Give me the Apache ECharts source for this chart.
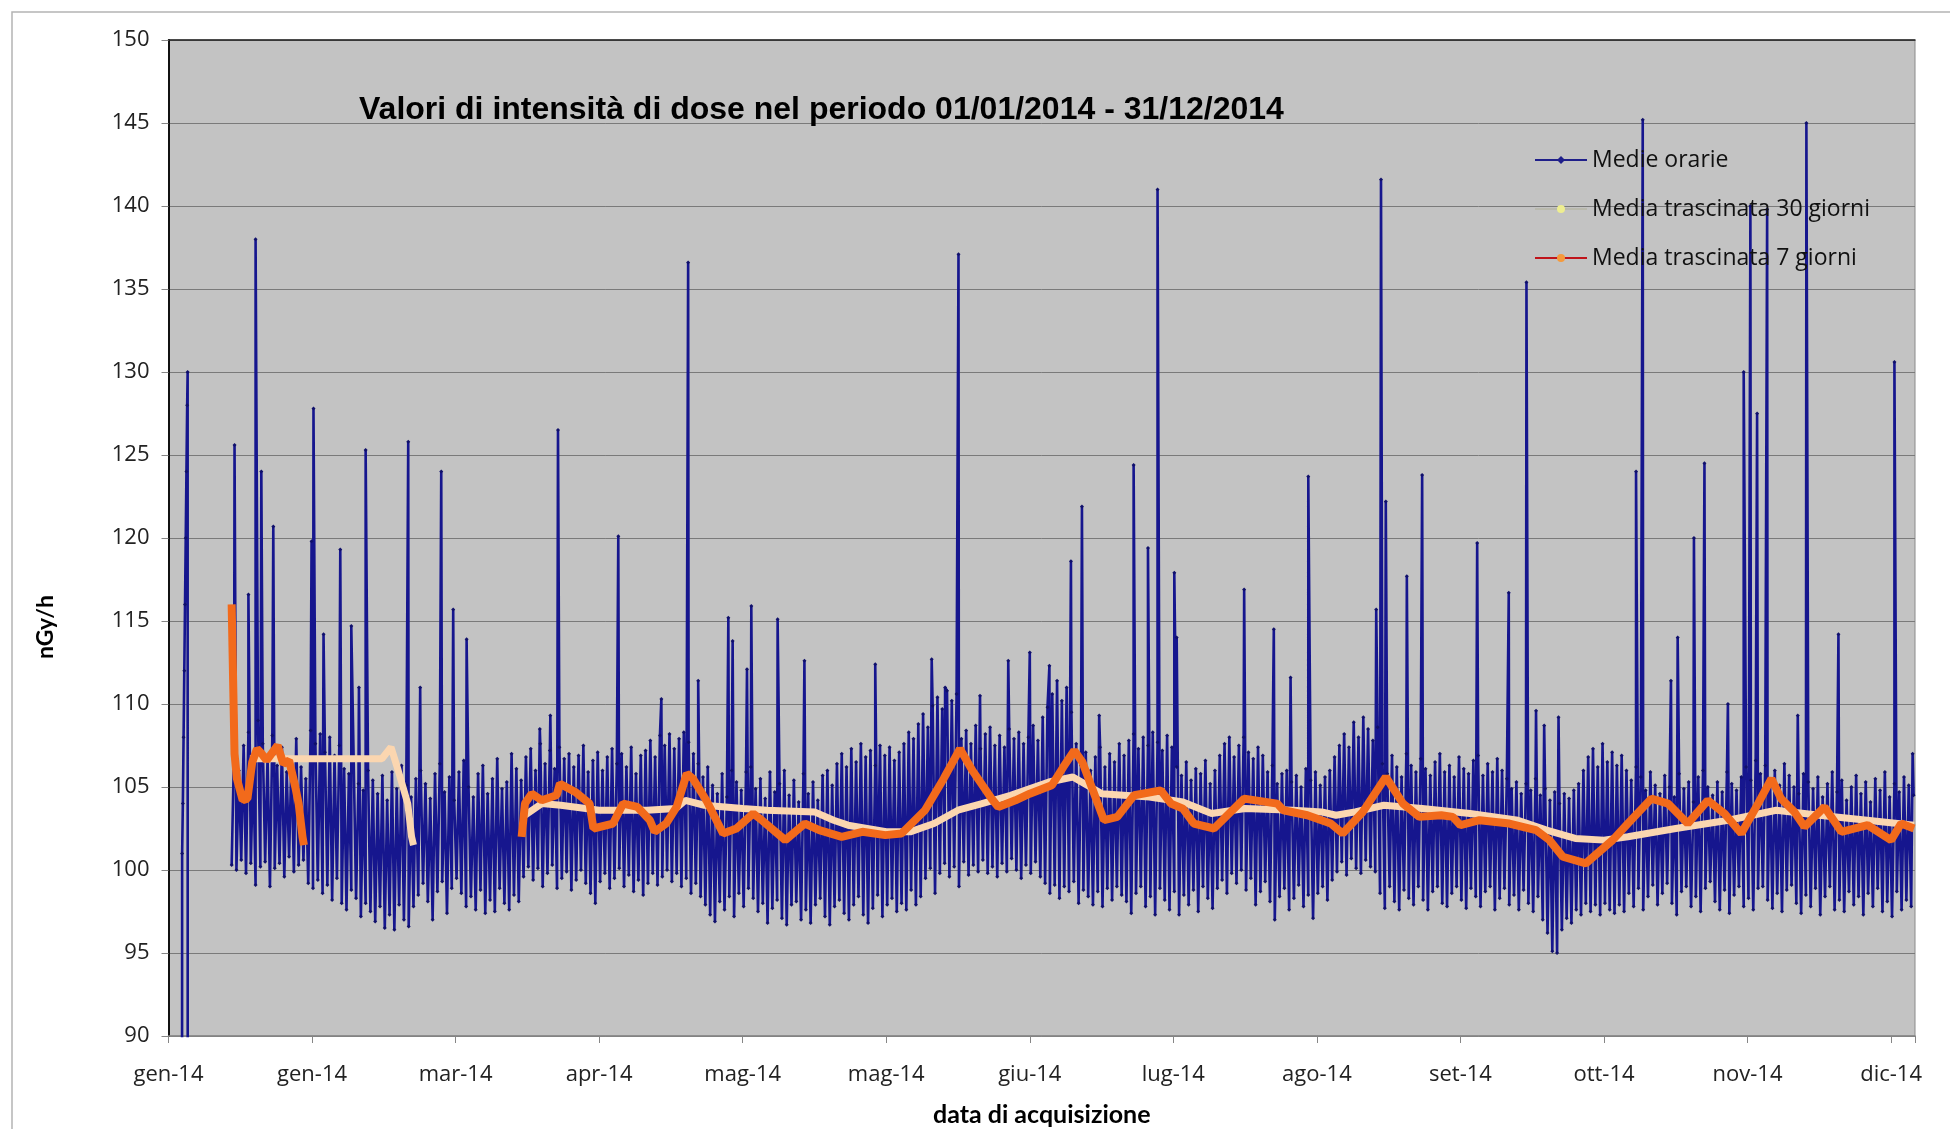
<!DOCTYPE html>
<html>
<head>
<meta charset="utf-8">
<script src="https://cdn.jsdelivr.net/npm/echarts@6/dist/echarts.min.js"></script>
<style>
  html, body { margin: 0; padding: 0; background: #fff; }
  #chart { width: 1950px; height: 1129px; }
</style>
</head>
<body>
<div id="chart"></div>
<script>
// x = giorni dal 01/01/2014
const tickLabels = ['gen-14','gen-14','mar-14','apr-14','mag-14','mag-14','giu-14','lug-14','ago-14','set-14','ott-14','nov-14','dic-14'];

// primo blocco di dati (3-4 gennaio), poi interruzione
const startDays = [2.75, 2.85, 3.0, 3.15, 3.3, 3.45, 3.6, 3.75, 3.9, 4.0, 4.05];
const startVals = [0, 101, 104, 108, 112, 116, 120, 124, 128, 130, 0];

// minimo e massimo giornaliero delle medie orarie, dal giorno 13 al 364
const firstDay = 13;
const dayLow = [
  100.3,100.0,100.6,99.8,100.4,99.1,100.2,100.5,99.0,100.1,
  100.4,99.6,100.8,99.9,100.3,100.6,99.2,98.9,99.4,98.6,
  99.1,98.2,99.5,98.0,97.6,98.8,98.3,97.2,98.0,97.5,
  96.9,97.8,96.5,97.3,96.4,97.9,97.0,96.6,97.8,98.5,
  99.2,98.1,97.0,98.7,99.3,97.4,98.9,99.5,98.6,97.8,
  98.4,97.6,98.8,97.4,98.2,97.5,98.9,98.0,97.6,98.5,
  98.1,99.6,100.2,99.4,100.1,99.0,99.8,100.3,98.9,99.5,
  99.9,98.8,99.4,100.0,99.2,98.6,98.0,99.3,99.8,98.9,
  99.5,100.1,99.0,99.7,98.7,99.4,98.5,99.2,99.8,99.1,
  99.6,100.0,99.3,99.8,99.0,99.5,98.6,99.2,98.4,97.9,
  97.3,96.9,98.1,97.6,98.4,97.2,98.6,97.8,98.9,98.3,
  97.5,98.0,96.8,97.7,98.2,97.1,96.7,97.9,98.1,97.0,
  97.6,96.8,97.9,98.3,97.2,96.7,97.8,98.2,97.4,97.0,
  97.9,98.4,97.3,96.8,97.7,98.5,97.2,97.9,98.3,97.5,
  98.0,97.6,98.8,97.9,98.4,99.5,100.1,98.6,99.8,100.4,
  99.6,100.2,99.0,100.5,99.7,100.3,99.9,100.6,99.8,100.2,
  99.6,100.4,99.9,100.7,100.0,99.5,100.3,99.8,100.5,99.6,
  99.2,98.6,99.1,98.3,99.0,98.7,99.3,98.0,98.8,98.4,
  97.9,98.7,97.8,98.9,98.2,99.0,98.5,98.1,97.4,98.6,
  99.0,97.8,98.4,97.3,98.9,98.2,97.6,98.7,97.3,98.5,
  97.9,98.8,97.5,99.0,98.3,97.7,98.9,99.4,98.6,99.8,
  99.2,100.0,98.8,99.5,97.9,98.7,99.3,98.1,97.0,98.4,
  98.9,97.6,98.3,99.1,97.8,98.5,97.1,98.6,99.0,98.2,
  99.4,99.9,100.5,99.7,100.7,100.1,99.8,100.6,100.2,99.9,
  98.6,97.7,99.0,98.1,97.6,98.8,98.3,97.9,99.0,98.2,
  97.6,98.7,99.0,98.0,97.8,98.6,99.0,98.2,97.7,98.9,
  98.4,97.8,98.7,99.0,97.6,98.3,98.9,97.9,98.5,97.6,
  98.8,98.0,97.5,98.4,97.0,96.2,95.1,95.0,96.4,97.1,
  96.8,97.6,97.3,98.0,97.5,97.9,97.3,98.0,97.6,97.4,
  97.9,97.5,98.6,97.8,98.9,97.6,98.4,99.1,97.9,98.6,
  99.2,98.0,97.3,98.7,99.0,97.8,98.4,97.5,98.9,99.3,
  98.1,97.6,98.8,97.4,98.5,99.0,97.8,98.3,97.6,98.9,
  99.0,98.2,97.7,98.6,97.5,98.8,99.1,98.0,97.4,98.5,
  97.8,98.9,97.3,98.4,99.0,97.6,98.2,97.5,98.7,97.9,
  98.4,97.3,98.6,97.8,98.9,97.5,98.1,97.2,98.7,97.6,
  98.2,97.8
];
const dayHigh = [
  107.2,106.0,107.5,108.3,106.4,109.0,107.6,106.8,108.1,106.3,
  107.4,105.9,106.7,107.9,106.2,105.5,108.4,107.6,108.2,107.1,
  108.0,106.9,107.5,106.1,105.8,106.6,105.2,104.8,106.0,105.4,
  104.6,105.7,104.2,105.9,104.9,106.3,105.1,104.4,105.5,106.0,
  105.2,104.3,105.8,106.4,104.7,105.6,104.2,105.9,106.6,105.0,
  104.4,105.8,106.3,104.6,105.5,106.7,104.9,105.3,107.0,106.1,
  105.4,106.8,107.3,106.0,107.6,106.4,107.2,106.1,107.4,106.7,
  107.0,106.2,106.9,107.5,105.9,106.6,107.1,106.0,106.8,107.3,
  106.4,107.0,106.2,107.4,105.8,106.9,107.2,107.8,106.8,108.1,
  107.5,108.2,107.3,107.9,108.3,107.7,107.0,106.4,105.6,106.2,
  105.1,104.6,105.8,104.4,106.0,105.3,104.8,105.9,106.2,104.9,
  105.5,104.3,105.9,104.7,105.2,106.0,104.5,105.4,104.1,105.8,
  104.6,105.3,104.2,105.7,106.0,105.1,106.4,107.0,106.2,107.3,
  106.5,107.6,106.8,107.2,106.3,107.5,106.9,107.4,106.6,107.1,
  107.6,108.3,107.9,108.8,109.4,108.6,109.9,110.4,109.7,110.8,
  110.2,110.6,107.9,108.4,107.6,108.7,107.3,108.2,108.6,107.5,
  108.1,107.4,108.5,107.9,108.3,107.6,108.0,108.7,107.8,109.2,
  109.8,110.6,111.4,110.2,111.0,109.5,107.6,106.3,107.1,106.0,
  106.8,107.4,106.2,107.0,106.5,107.6,106.9,107.8,108.2,107.3,
  108.0,107.5,108.3,107.7,107.2,108.1,107.4,106.2,105.7,106.5,
  105.4,106.1,105.8,106.6,105.2,106.0,106.9,107.6,108.0,106.8,
  107.5,108.0,107.1,106.7,107.4,106.9,105.9,106.3,105.2,105.8,
  106.0,105.3,105.7,105.0,106.1,105.4,105.9,105.1,105.6,106.0,
  106.8,107.5,108.2,107.4,108.9,108.0,109.2,108.5,107.8,108.6,
  106.4,105.8,106.9,106.2,105.6,107.0,106.3,105.9,106.7,106.1,
  105.7,106.5,107.0,105.9,106.3,105.6,106.8,106.1,105.8,106.6,
  106.9,105.7,106.4,105.9,106.7,106.0,105.5,104.9,105.3,104.6,
  105.2,104.8,105.5,104.5,104.9,104.2,104.7,104.0,104.6,104.3,
  104.8,105.2,106.0,106.8,107.3,106.2,107.6,106.5,107.1,106.3,
  106.9,106.0,105.4,106.2,105.6,104.8,105.9,105.1,104.6,105.7,
  105.0,104.4,105.8,104.9,105.3,104.1,105.6,106.0,105.0,104.5,
  105.3,104.7,105.9,105.2,104.8,105.6,106.2,105.4,106.6,105.8,
  106.3,105.5,106.0,105.1,106.4,105.7,105.0,104.6,105.8,105.3,
  104.9,105.6,104.4,105.2,105.9,104.7,105.4,104.2,105.0,105.7,
  104.6,105.3,104.1,105.5,104.8,105.9,104.4,105.2,104.7,105.6,
  105.1,104.5
];

// picchi isolati delle medie orarie
const spikeDays = [13.8,16.7,18.2,19.4,21.9,29.9,30.3,32.4,35.9,38.2,39.8,41.2,50.1,52.6,57.0,59.5,62.3,
  77.6,79.8,81.4,94.0,103.0,108.6,110.7,117.0,117.9,120.9,121.8,127.3,132.9,147.7,159.5,162.3,165.1,
  169.6,175.5,180.0,184.1,188.6,190.9,194.5,201.7,204.7,206.7,210.2,210.7,224.8,231.0,234.5,238.2,
  252.4,253.4,254.4,258.8,262.0,273.5,280.1,283.8,285.8,287.5,290.5,306.7,308.1,314.0,315.4,318.8,
  321.0,325.9,329.2,330.6,332.0,334.1,340.5,342.3,349.0,360.7,364.5];
const spikePeak = [125.6,116.6,138.0,124.0,120.7,119.8,127.8,114.2,119.3,114.7,111.0,125.3,125.8,111.0,124.0,115.7,113.9,
  108.5,109.3,126.5,120.1,110.3,136.6,111.4,115.2,113.8,112.1,115.9,115.1,112.6,112.4,112.7,111.0,137.1,
  110.5,112.6,113.1,112.3,118.6,121.9,109.3,124.4,119.4,141.0,117.9,114.0,116.9,114.5,111.6,123.7,
  115.7,141.6,122.2,117.7,123.8,119.7,116.7,135.4,109.6,108.7,109.2,124.0,145.2,111.4,114.0,120.0,
  124.5,110.0,130.0,140.0,127.5,139.8,109.3,145.0,114.2,130.6,107.0];

// media trascinata 7 giorni (due tratti)
const ma7Days = [13.2,13.4,13.6,13.8,14.3,15.5,16.5,17.5,18.5,19.5,20.5,21.5,22.8,24.0,25.2,26.5,27.2,28.0,28.3,
  50, 73.8,74.5,75.9,78,81.1,81.8,85,88,88.8,92.9,95,98,100.6,101.6,104,106.2,108.3,109.6,112.4,115.9,118.7,
  122.2,124,128.9,133,136,140.7,145,149.8,153.2,158.1,162,165.4,168,172,173.4,177,180,184.6,187,189.3,191,
  195.5,198.3,201.8,207.4,209.5,212,214.3,218.5,224.8,231.7,233,238,242.9,245.4,249.6,254.4,258,261.4,266,
  268.4,270,274,280.2,285.8,288.6,291.4,296.2,301.8,305,309.9,313.4,317.5,321.7,325.2,328.7,332.2,335,337,
  339.8,341.9,346.1,349.6,355.1,360,362.1,364.8];
const ma7Vals = [116,113,110,107,105.5,104.2,104.3,106.5,107.3,107,106.6,107,107.5,106.4,106.6,105,104,102,101.5,
  null, 102,104,104.6,104.2,104.5,105.2,104.7,104,102.5,102.8,104,103.8,103,102.3,102.8,103.8,105.8,105.5,104.2,102.2,102.5,
  103.4,103,101.8,102.8,102.4,102,102.3,102.1,102.2,103.6,105.5,107.3,106,104.3,103.8,104.2,104.6,105.1,106.2,107.2,106.5,
  103,103.2,104.5,104.8,104,103.7,102.8,102.5,104.3,104,103.6,103.3,102.8,102.2,103.5,105.6,104,103.2,103.3,
  103.2,102.7,103,102.8,102.4,101.8,100.8,100.4,101.8,102.8,104.3,104,102.8,104.2,103.4,102.2,104,105.5,104.3,
  103.5,102.6,103.8,102.3,102.7,101.8,102.8,102.5];

// media trascinata 30 giorni (due tratti)
const ma30Days = [17,28,35,44.6,46.5,48,50,50.8,51.2, 60, 74,78,82,90,100,106,108,112,120,125,135,139,142,150,155,160,
  165,170,176,184,189,192,195,205,212,218,225,235,241,244,248,254,262,272,282,288,294,300,305,315,326,336,345,355,364.8];
const ma30Vals = [106.7,106.7,106.7,106.7,107.4,106,104,102,101.5, null, 103.2,104,103.9,103.6,103.6,103.7,104.2,103.9,103.7,103.6,
  103.5,103,102.7,102.3,102.3,102.8,103.6,104,104.5,105.3,105.6,105.1,104.6,104.4,104.1,103.4,103.7,103.6,103.5,103.3,
  103.5,103.9,103.7,103.4,103,102.4,101.9,101.8,102,102.5,103,103.6,103.3,103,102.7];

const hourly = [];
startDays.forEach((d, i) => hourly.push([d, startVals[i]]));
hourly.push([8, null]);
dayLow.forEach((v, i) => {
  const d = firstDay + i;
  hourly.push([d + 0.2, v], [d + 0.7, dayHigh[i]]);
});
spikeDays.forEach((d, i) => hourly.push([d, spikePeak[i]]));
hourly.sort((a, b) => a[0] - b[0]);

const ma7 = ma7Days.map((d, i) => [d, ma7Vals[i]]);
const ma30 = ma30Days.map((d, i) => [d, ma30Vals[i]]);

const tickFont = 'Open Sans';
const chart = echarts.init(document.getElementById('chart'));
chart.setOption({
  animation: false,
  backgroundColor: '#ffffff',
  title: {
    text: 'Valori di intensità di dose nel periodo 01/01/2014 - 31/12/2014',
    left: 354, top: 89,
    textStyle: { fontFamily: 'Liberation Sans', fontWeight: 'bold', fontSize: 32, color: '#000' }
  },
  legend: {
    orient: 'vertical',
    left: 1529, top: 142,
    itemWidth: 52, itemHeight: 10, itemGap: 23,
    textStyle: { fontFamily: 'Open Sans', fontSize: 23, lineHeight: 26, color: '#111' },
    data: [
      { name: 'Medie orarie', lineStyle: { color: '#1f1f8a', width: 2 }, itemStyle: { color: '#1f1f8a' } },
      { name: 'Media trascinata 30 giorni', lineStyle: { color: '#b9b9ad', width: 2 }, itemStyle: { color: '#eeee90' } },
      { name: 'Media trascinata 7 giorni', lineStyle: { color: '#c0141a', width: 2 }, itemStyle: { color: '#f59a3c' } }
    ]
  },
  graphic: [
    { type: 'rect', shape: { x: 12, y: 12, width: 1960, height: 1140 }, style: { fill: 'none', stroke: '#b4b4b4', lineWidth: 1.5 } },
    { type: 'text', x: 46, y: 627, rotation: Math.PI / 2,
      style: { text: 'nGy/h', font: 'bold 23px Lato', fill: '#000', align: 'center', verticalAlign: 'middle' } }
  ],
  grid: {
    left: 168.5, right: 35, top: 40, bottom: 93,
    outerBoundsMode: 'none',
    show: true, backgroundColor: '#c3c3c3', borderColor: '#8a8a8a', borderWidth: 1
  },
  xAxis: [{
    type: 'value', min: 0, max: 365, interval: 30,
    name: 'data di acquisizione', nameLocation: 'middle', nameGap: 66,
    nameTextStyle: { fontFamily: 'Lato', fontWeight: 'bold', fontSize: 25, color: '#000' },
    axisLine: { lineStyle: { color: '#868686', width: 1.5 } },
    axisTick: { show: true, length: 7, lineStyle: { color: '#868686' } },
    axisLabel: {
      fontFamily: tickFont, fontSize: 22, color: '#222', margin: 28,
      formatter: v => (v % 30 === 0 && v / 30 < tickLabels.length) ? tickLabels[v / 30] : ''
    },
    splitLine: { show: false }
  }, {
    type: 'value', position: 'top', min: 0, max: 365,
    axisLine: { lineStyle: { color: '#222', width: 1.5 } },
    axisTick: { show: false }, axisLabel: { show: false }, splitLine: { show: false }
  }],
  yAxis: [{
    type: 'value', min: 90, max: 150, interval: 5,
    axisLine: { show: true, lineStyle: { color: '#868686', width: 1.5 } },
    axisTick: { show: true, length: 7, lineStyle: { color: '#868686' } },
    axisLabel: { fontFamily: tickFont, fontSize: 22, color: '#222', margin: 19 },
    splitLine: { lineStyle: { color: '#7a7a7a', width: 1 } }
  }, {
    type: 'value', position: 'right', min: 90, max: 150,
    axisLine: { show: true, lineStyle: { color: '#111', width: 2 } },
    axisTick: { show: false }, axisLabel: { show: false }, splitLine: { show: false }
  }],
  series: [
    {
      name: 'Medie orarie', type: 'line', data: hourly,
      symbol: 'diamond', symbolSize: 4, showAllSymbol: true,
      itemStyle: { color: '#10106a' },
      lineStyle: { color: '#16168e', width: 2.6 },
      connectNulls: false, z: 2
    },
    {
      name: 'Media trascinata 30 giorni', type: 'line', data: ma30,
      symbol: 'circle', showSymbol: false,
      itemStyle: { color: '#eeee90' },
      lineStyle: { color: '#fbd6b0', width: 7 },
      connectNulls: false, z: 3
    },
    {
      name: 'Media trascinata 7 giorni', type: 'line', data: ma7,
      symbol: 'circle', showSymbol: false,
      itemStyle: { color: '#f59a3c' },
      lineStyle: { color: '#f26a1b', width: 8 },
      connectNulls: false, z: 4
    }
  ]
});
</script>
</body>
</html>
